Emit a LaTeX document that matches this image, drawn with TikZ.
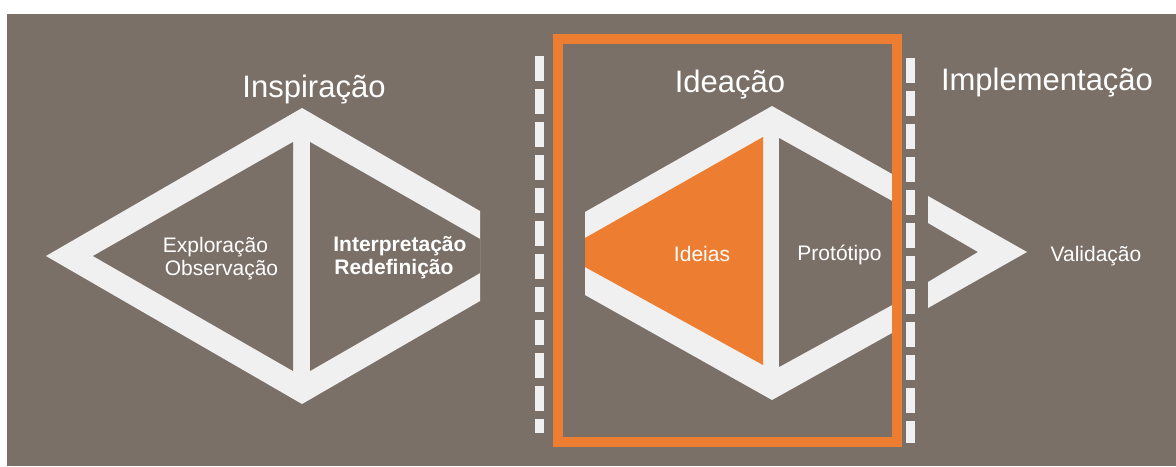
\documentclass[tikz,border=0pt]{standalone}
\usepackage{fontspec}
\setmainfont{Liberation Sans}
\definecolor{bgbrown}{RGB}{123,112,104}
\definecolor{band}{RGB}{240,240,240}
\definecolor{accent}{RGB}{237,125,49}
\begin{document}
\begin{tikzpicture}[x=0.5pt,y=-0.5pt,
  headtxt/.style={text=white, font=\fontsize{15.5}{18}\selectfont, inner sep=0pt, anchor=base},
  smalltxt/.style={text=white, font=\fontsize{10.5}{12}\selectfont, inner sep=0pt, anchor=base},
  boldtxt/.style={smalltxt, font=\fontsize{10.5}{12}\selectfont\bfseries, anchor=base west},
  divider/.style={draw=band, line width=4.5pt, dash pattern=on 12.5pt off 4pt}]
\useasboundingbox (0,0) rectangle (1176,466);
% canvas
\fill[white] (0,0) rectangle (1176,466);
\fill[bgbrown] (7,13.5) rectangle (1176,466);

% Inspiracao diamond
\fill[band] (302,108) -- (480,211) -- (480,301) -- (302,404) -- (46,256) -- cycle;
\fill[bgbrown] (93,256) -- (293,142) -- (293,371) -- cycle;
\fill[bgbrown] (310,142) -- (480,239) -- (480,273) -- (310,371) -- cycle;

% Ideacao diamond
\fill[band] (772,106) -- (892,174) -- (892,333) -- (772,400) -- (585,295) -- (585,212) -- cycle;
\fill[accent] (585,238) -- (763,137) -- (763,365) -- (585,267) -- cycle;
\fill[bgbrown] (779,138) -- (892,201) -- (892,305) -- (779,367) -- cycle;

% highlight frame
\draw[accent, line width=5pt] (558,38.5) rectangle (897,442);

% dashed dividers
\coordinate (d1a) at (539.5,56);
\coordinate (d1b) at (539.5,433);
\coordinate (d2a) at (910,58);
\coordinate (d2b) at (910,443);
\draw[divider] (d1a) -- (d1b);
\draw[divider] (d2a) -- (d2b);

% Implementacao chevron
\fill[band] (928,196) -- (1027,252) -- (928,308) -- (928,282) -- (978,252) -- (928,223) -- cycle;

% labels
\node[headtxt] (insp) at (314,97) {Inspiração};
\node[headtxt] (idea) at (730,92) {Ideação};
\node[headtxt] (impl) at (1047,90) {Implementação};
\node[smalltxt] (expl) at (215.5,252) {Exploração};
\node[smalltxt] (obs) at (221.5,275) {Observação};
\node[boldtxt] (interp) at (333,251) {Interpretação};
\node[boldtxt] (redef) at (334,274) {Redefinição};
\node[smalltxt] (ideias) at (702,261) {Ideias};
\node[smalltxt] (proto) at (839.5,260) {Protótipo};
\node[smalltxt] (valid) at (1096,261) {Validação};
\end{tikzpicture}
\end{document}
